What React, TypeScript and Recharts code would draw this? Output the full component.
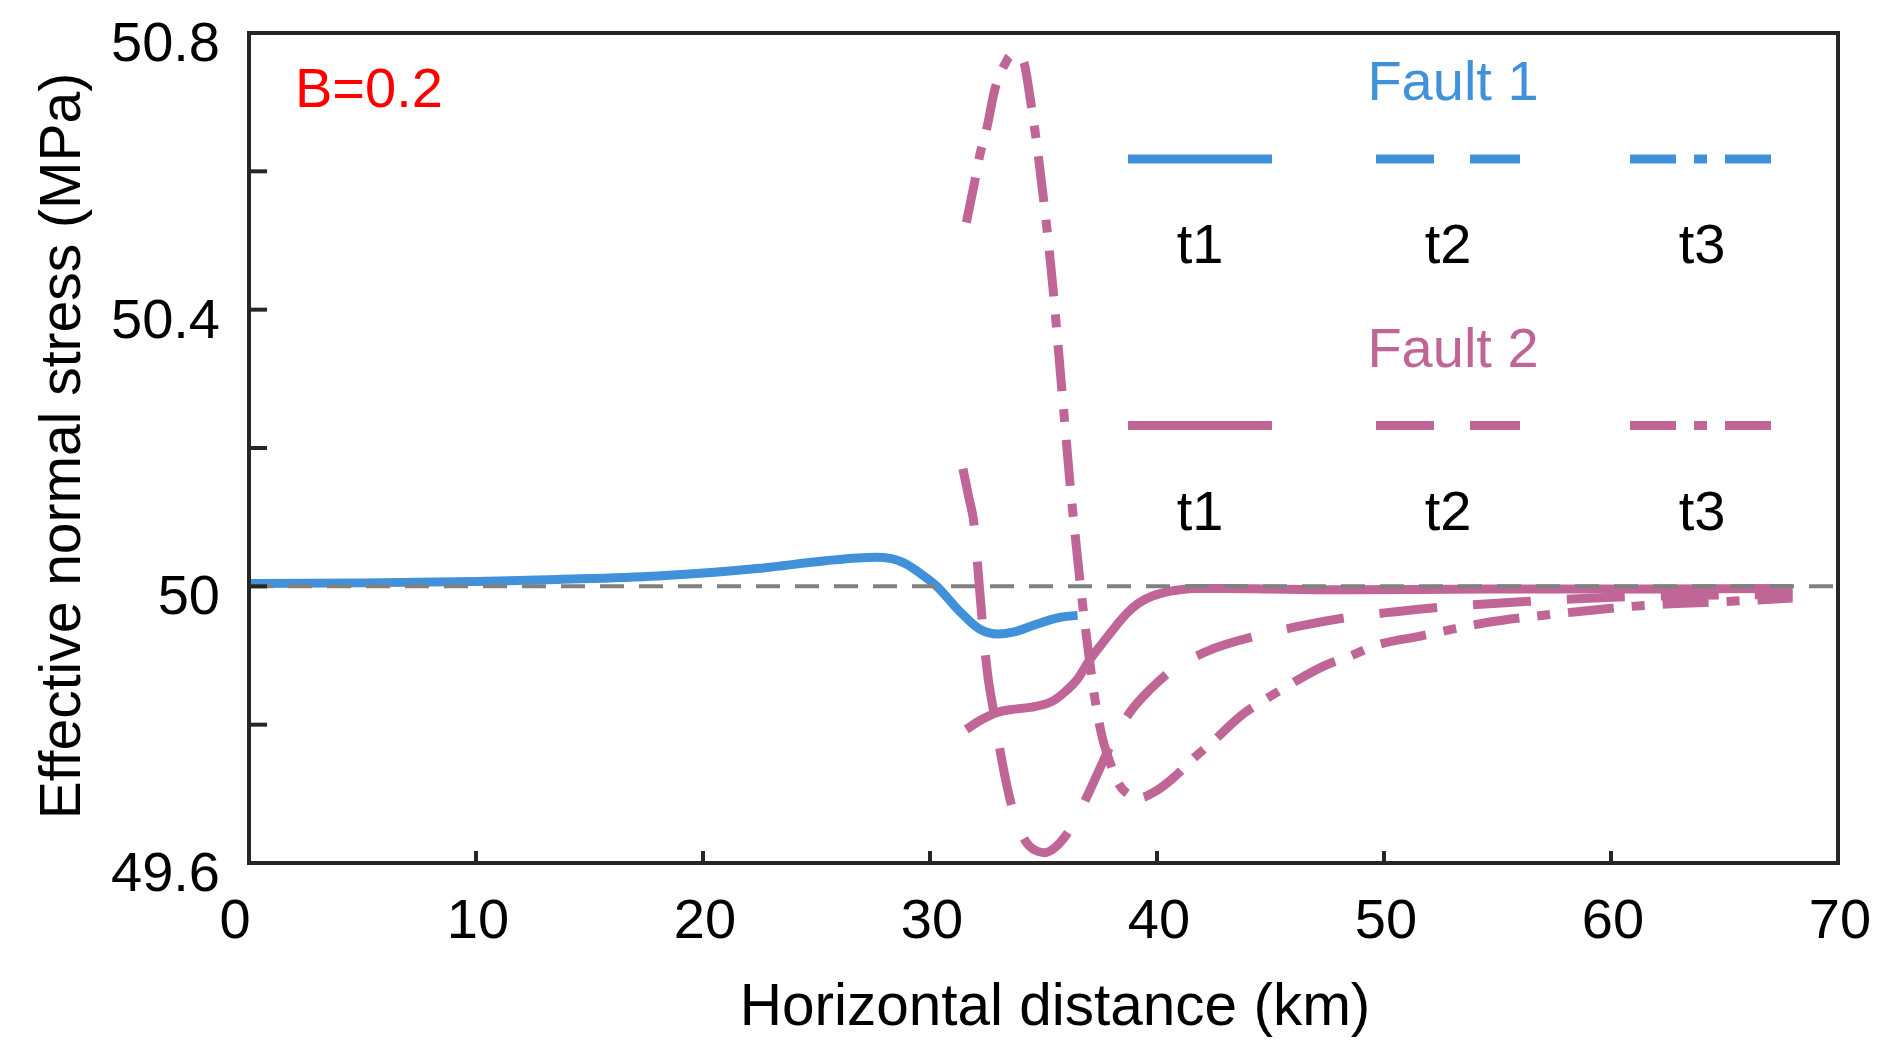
import React from 'react';
import { LineChart, Line, XAxis, YAxis, ReferenceLine, Customized } from 'recharts';

const FONT = '"Liberation Sans", Arial, Helvetica, sans-serif';
const BLUE = '#4090DA';
const PINK = '#C06696';
const AXIS = '#262626';
const GRAY = '#808080';

const DASHED = '58 36';
const DASHDOT = '46 18 13 18';
const LW = 9;

// ---- axis ticks ----
const xTicks = [0, 10, 20, 30, 40, 50, 60, 70];
const yTicks = [49.6, 49.8, 50, 50.2, 50.4, 50.6, 50.8];
const yLabeled = [49.6, 50, 50.4, 50.8];

// ---- series: [horizontal distance (km), effective normal stress (MPa)] ----
const fault1T1: [number, number][] = [
  [0, 50.004], [5, 50.005], [10, 50.007], [13.6, 50.01], [18, 50.015], [22.5, 50.026],
  [25.4, 50.037], [26.8, 50.041], [27.6, 50.042], [28.3, 50.04], [28.9, 50.033],
  [29.6, 50.018], [30.3, 50.0], [31.3, 49.964], [32.2, 49.938], [33.0, 49.931],
  [33.7, 49.934], [34.5, 49.943], [35.7, 49.955], [36.5, 49.958],
];

const fault2T1: [number, number][] = [
  [31.6, 49.793], [32.2, 49.806], [32.9, 49.817], [33.6, 49.822], [34.4, 49.825],
  [35.4, 49.834], [36.0, 49.849], [36.5, 49.866], [37.0, 49.892], [37.6, 49.918],
  [38.2, 49.943], [38.7, 49.962], [39.2, 49.976], [39.8, 49.986], [40.3, 49.991],
  [41.0, 49.995], [41.7, 49.997], [43, 49.997], [45, 49.996], [48, 49.995],
  [55, 49.996], [62, 49.996], [68, 49.997],
];

const fault2T2: [number, number][] = [
  [31.45, 50.17], [31.7, 50.13], [31.95, 50.087], [32.1, 50.03], [32.3, 49.95],
  [32.55, 49.87], [32.8, 49.82], [33.1, 49.76], [33.4, 49.71], [33.75, 49.665],
  [34.2, 49.632], [34.6, 49.619], [35.05, 49.615], [35.5, 49.622], [35.9, 49.636],
  [36.3, 49.656], [37.0, 49.702], [37.6, 49.745], [38.1, 49.78], [38.9, 49.822],
  [39.7, 49.851], [40.7, 49.88], [42.2, 49.906], [44.6, 49.93], [46.2, 49.942],
  [48.6, 49.956], [50.4, 49.963], [52.9, 49.971], [55.7, 49.977], [59.8, 49.984],
  [64, 49.987], [68, 49.988],
];

const fault2T3: [number, number][] = [
  [31.6, 50.526], [31.98, 50.587], [32.19, 50.623], [32.48, 50.659], [32.86, 50.719],
  [33.3, 50.755], [33.55, 50.767], [33.8, 50.767], [34.1, 50.76], [34.43, 50.702],
  [34.76, 50.625], [34.99, 50.563], [35.24, 50.49], [35.42, 50.43], [35.61, 50.36],
  [35.78, 50.295], [35.98, 50.22], [36.15, 50.155], [36.42, 50.066], [36.7, 49.98],
  [37.0, 49.9], [37.3, 49.83], [37.6, 49.78], [37.9, 49.748], [38.3, 49.715],
  [38.7, 49.7], [39.2, 49.694], [40.0, 49.705], [40.75, 49.724], [41.6, 49.751],
  [42.4, 49.774], [43.9, 49.818], [44.75, 49.836], [45.7, 49.855], [47.5, 49.887],
  [48.5, 49.899], [49.5, 49.913], [51.6, 49.928], [54.6, 49.948], [56.7, 49.957],
  [58.7, 49.964], [60.9, 49.971], [62.9, 49.975], [65, 49.978], [68, 49.983],
];

// ---- legend table ----
const legendFaults = ['Fault 1', 'Fault 2'];
const legendColors = [BLUE, PINK];
const legendTimes = ['t1', 't2', 't3'];
const legendDashes = [undefined, DASHED, DASHDOT];

const toRows = (pts: [number, number][]) => pts.map(([km, v]) => ({ km, v }));

const W = 1875;
const H = 1031;

const XTick = (props: any) => {
  const { x, y, payload } = props;
  const dx = payload.value === 0 ? -14 : 2;
  return (
    <text x={x + dx} y={y + 75} textAnchor="middle" fontFamily={FONT} fontSize={56} fill="#000">
      {payload.value}
    </text>
  );
};

const YTick = (props: any) => {
  const { x, y, payload } = props;
  if (!yLabeled.some((v) => Math.abs(v - payload.value) < 1e-6)) return <g />;
  return (
    <text x={x} y={y + 28} textAnchor="end" fontFamily={FONT} fontSize={56} fill="#000">
      {String(payload.value)}
    </text>
  );
};

const Annotations = () => {
  const colX = [1192, 1440, 1694];
  const rowStep = 266.5;
  return (
    <g fontFamily={FONT}>
      <text x={287} y={99} fontSize={56} fill="#FF0000">B=0.2</text>
      <text x={1047} y={1017} fontSize={58.5} textAnchor="middle" fill="#000">
        Horizontal distance (km)
      </text>
      <text
        x={72}
        y={438}
        fontSize={57}
        textAnchor="middle"
        fill="#000"
        transform="rotate(-90, 72, 438)"
      >
        Effective normal stress (MPa)
      </text>
      {legendFaults.map((name, r) => (
        <g key={name}>
          <text x={1445} y={92 + r * rowStep} fontSize={56} textAnchor="middle" fill={legendColors[r]}>
            {name}
          </text>
          {legendTimes.map((t, c) => (
            <g key={t}>
              <line
                x1={colX[c] - 72}
                x2={colX[c] + 72}
                y1={151 + r * rowStep}
                y2={151 + r * rowStep}
                stroke={legendColors[r]}
                strokeWidth={LW}
                strokeDasharray={legendDashes[c]}
              />
              <text x={colX[c]} y={255 + r * rowStep} fontSize={56} textAnchor="middle" fill="#000">
                {t}
              </text>
            </g>
          ))}
        </g>
      ))}
    </g>
  );
};

export default function App() {
  const axisLine = { stroke: AXIS, strokeWidth: 4, strokeLinecap: 'square' as const };
  const tickLine = { stroke: AXIS, strokeWidth: 4 };
  return (
    <div style={{ width: W, height: H, background: '#fff' }}>
      <LineChart width={W} height={H} margin={{ top: 24, right: 44, bottom: 0, left: 0 }}>
        <XAxis
          xAxisId={0}
          dataKey="km"
          type="number"
          domain={[0, 70]}
          ticks={xTicks}
          interval={0}
          allowDataOverflow
          height={176}
          tickSize={-12}
          tickMargin={12}
          axisLine={axisLine}
          tickLine={tickLine}
          tick={XTick}
        />
        <XAxis
          xAxisId="top"
          orientation="top"
          dataKey="km"
          type="number"
          domain={[0, 70]}
          ticks={xTicks}
          interval={0}
          allowDataOverflow
          height={1}
          tickSize={-12}
          axisLine={axisLine}
          tickLine={tickLine}
          tick={false}
        />
        <YAxis
          yAxisId={0}
          type="number"
          domain={[49.6, 50.8]}
          ticks={yTicks}
          interval={0}
          allowDataOverflow
          width={241}
          tickSize={-18}
          tickMargin={47}
          axisLine={axisLine}
          tickLine={tickLine}
          tick={YTick}
        />
        <YAxis
          yAxisId="right"
          orientation="right"
          type="number"
          domain={[49.6, 50.8]}
          ticks={yTicks}
          interval={0}
          allowDataOverflow
          width={1}
          tickSize={-18}
          axisLine={axisLine}
          tickLine={tickLine}
          tick={false}
        />
        <Line
          data={toRows(fault1T1)}
          dataKey="v"
          type="monotone"
          stroke={BLUE}
          strokeWidth={LW}
          dot={false}
          activeDot={false}
          isAnimationActive={false}
        />
        <Line
          data={toRows(fault2T1)}
          dataKey="v"
          type="monotone"
          stroke={PINK}
          strokeWidth={LW}
          dot={false}
          activeDot={false}
          isAnimationActive={false}
        />
        <Line
          data={toRows(fault2T2)}
          dataKey="v"
          type="monotone"
          stroke={PINK}
          strokeWidth={LW}
          strokeDasharray={DASHED}
          dot={false}
          activeDot={false}
          isAnimationActive={false}
        />
        <Line
          data={toRows(fault2T3)}
          dataKey="v"
          type="monotone"
          stroke={PINK}
          strokeWidth={LW}
          strokeDasharray={DASHDOT}
          dot={false}
          activeDot={false}
          isAnimationActive={false}
        />
        <ReferenceLine y={50} stroke={GRAY} strokeWidth={4} strokeDasharray="24 15" ifOverflow="hidden" />
        <Customized component={<Annotations />} />
      </LineChart>
    </div>
  );
}
